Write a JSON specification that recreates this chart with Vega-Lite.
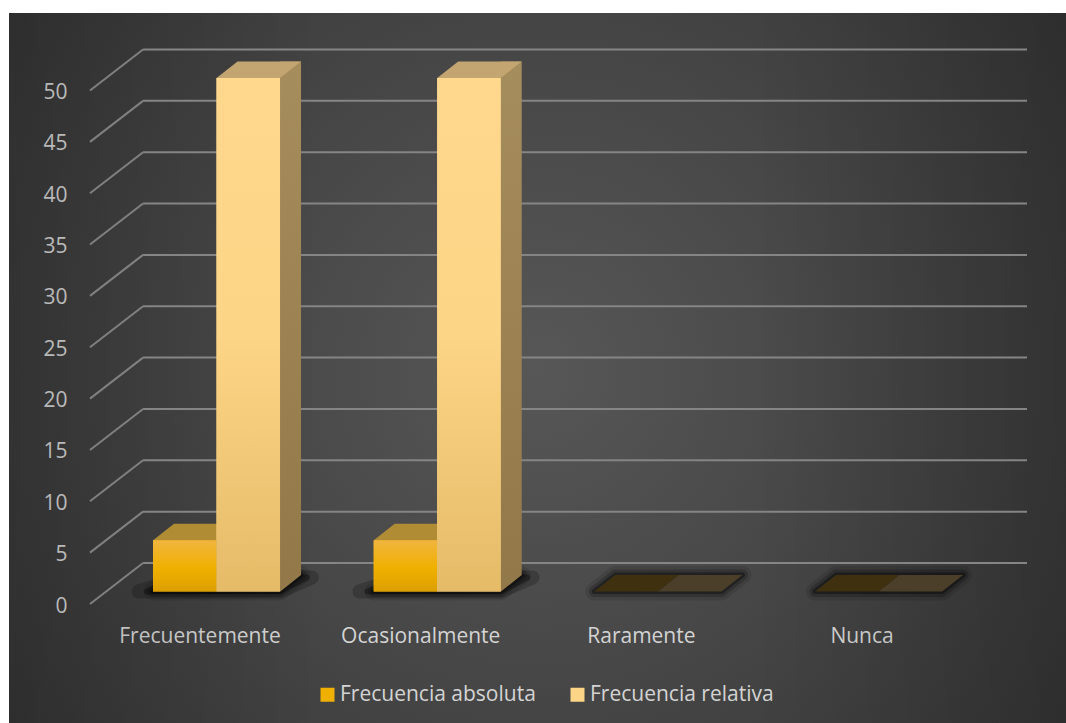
{
  "$schema": "https://vega.github.io/schema/vega-lite/v6.json",
  "width": 1057,
  "height": 710,
  "autosize": "none",
  "padding": {"left": 9, "top": 13, "right": 0, "bottom": 0},
  "background": "#ffffff",
  "view": {
    "stroke": null,
    "fill": {
      "gradient": "radial", "x1": 0.5, "y1": 0.5, "r1": 0, "x2": 0.5, "y2": 0.5, "r2": 0.72,
      "stops": [{"offset": 0, "color": "#575757"}, {"offset": 0.55, "color": "#414141"}, {"offset": 1, "color": "#2f2f2f"}]
    }
  },
  "config": {
    "font": "Open Sans",
    "axis": {"grid": false, "domain": false, "ticks": false, "title": null, "labelColor": "#d4d4d4", "labelFontSize": 21, "labelFont": "Open Sans"},
    "legend": {"labelColor": "#d4d4d4", "labelFontSize": 21, "labelFont": "Open Sans", "labelLimit": 300}
  },
  "datasets": {
    "respuestas": [
      {"categoria": "Frecuentemente", "serie": "Frecuencia absoluta", "valor": 5},
      {"categoria": "Frecuentemente", "serie": "Frecuencia relativa", "valor": 50},
      {"categoria": "Ocasionalmente", "serie": "Frecuencia absoluta", "valor": 5},
      {"categoria": "Ocasionalmente", "serie": "Frecuencia relativa", "valor": 50},
      {"categoria": "Raramente", "serie": "Frecuencia absoluta", "valor": 0},
      {"categoria": "Raramente", "serie": "Frecuencia relativa", "valor": 0},
      {"categoria": "Nunca", "serie": "Frecuencia absoluta", "valor": 0},
      {"categoria": "Nunca", "serie": "Frecuencia relativa", "valor": 0}
    ],
    "marcas": [
      {"marca": 0}, {"marca": 5}, {"marca": 10}, {"marca": 15}, {"marca": 20}, {"marca": 25},
      {"marca": 30}, {"marca": 35}, {"marca": 40}, {"marca": 45}, {"marca": 50}
    ]
  },
  "resolve": {"scale": {"x": "independent"}, "axis": {"x": "independent"}},
  "layer": [
    {
      "data": {"name": "marcas"},
      "layer": [
        {
          "description": "Darkening toward the left and right edges of the panel",
          "transform": [{"filter": "datum.marca === 0"}],
          "mark": {
            "type": "rect",
            "color": {"gradient": "linear", "x1": 0, "y1": 0, "x2": 1, "y2": 0, "stops": [{"offset": 0, "color": "rgba(0,0,0,0.15)"}, {"offset": 0.3, "color": "rgba(0,0,0,0)"}, {"offset": 0.7, "color": "rgba(0,0,0,0)"}, {"offset": 1, "color": "rgba(0,0,0,0.15)"}]}
          },
          "encoding": {
            "x": {"datum": -0.6065, "type": "quantitative", "axis": null, "scale": {"domain": [-0.24, 4], "range": [81, 1018], "nice": false, "zero": false}},
            "x2": {"datum": 4.1765},
            "y": {"datum": 56.33, "type": "quantitative", "scale": {"domain": [0, 50], "range": [578.5, 65], "nice": false}},
            "y2": {"datum": -12.8}
          }
        },
        {
          "description": "Back wall gridlines",
          "mark": {"type": "rule", "color": "#858585", "strokeWidth": 2, "yOffset": -28.5},
          "encoding": {
            "x": {"datum": 0, "type": "quantitative", "axis": null},
            "x2": {"datum": 4},
            "y": {
              "field": "marca", "type": "quantitative",
              "axis": {"orient": "left", "offset": -58, "labelPadding": 0, "labelOffset": 14.5, "values": [0, 5, 10, 15, 20, 25, 30, 35, 40, 45, 50]}
            }
          }
        },
        {
          "description": "Side wall gridlines running from the front edge to the back wall",
          "mark": {"type": "rule", "color": "#808080", "strokeWidth": 2, "yOffset": 12.5, "y2Offset": -28.5},
          "encoding": {
            "x": {"datum": -0.24, "type": "quantitative", "axis": null},
            "x2": {"datum": 0},
            "y": {"field": "marca", "type": "quantitative"},
            "y2": {"field": "marca"}
          }
        }
      ]
    },
    {
      "data": {"name": "respuestas"},
      "encoding": {
        "x": {
          "field": "categoria", "type": "nominal", "sort": null,
          "scale": {"type": "band", "range": [97.2, 979.9], "paddingInner": 0.4245, "paddingOuter": 0.2122},
          "axis": {"orient": "bottom", "offset": -105, "labelPadding": 7, "labelOffset": -16.5, "labelAngle": 0}
        },
        "xOffset": {"field": "serie", "scale": {"domain": ["Frecuencia absoluta", "Frecuencia relativa"]}},
        "y": {"field": "valor", "type": "quantitative"}
      },
      "layer": [
        {
          "description": "Wide shadow under the standing bars, faint edge",
          "transform": [{"filter": "datum.serie === 'Frecuencia absoluta' && datum.valor > 0"}],
          "mark": {"type": "point", "filled": false, "size": 4, "fill": "#000000", "fillOpacity": 1, "stroke": "#000000", "strokeOpacity": 1, "strokeWidth": 14, "strokeJoin": "round", "opacity": 0.2, "shape": "M-46 0 L95 0 L127 -14 L-4 -14 Z"},
          "encoding": {"y": {"datum": 0, "type": "quantitative"}}
        },
        {
          "description": "Wide shadow under the standing bars, dark centre",
          "transform": [{"filter": "datum.serie === 'Frecuencia absoluta' && datum.valor > 0"}],
          "mark": {"type": "point", "filled": false, "size": 4, "fill": "#000000", "fillOpacity": 1, "stroke": "#000000", "strokeOpacity": 1, "strokeWidth": 6, "strokeJoin": "round", "opacity": 0.3, "shape": "M-38 0 L95 0 L122 -14 L-4 -14 Z"},
          "encoding": {"y": {"datum": 0, "type": "quantitative"}}
        },
        {
          "description": "Soft floor shadow, outer halo",
          "transform": [{"filter": "datum.serie === 'Frecuencia absoluta'"}],
          "mark": {"type": "point", "filled": false, "size": 4, "fill": "#000000", "fillOpacity": 1, "stroke": "#000000", "strokeOpacity": 1, "strokeWidth": 18, "strokeJoin": "round", "opacity": 0.1, "shape": "M-31.75 0 L95.25 0 L116.25 -16.5 L-10.75 -16.5 Z"},
          "encoding": {"y": {"datum": 0, "type": "quantitative"}}
        },
        {
          "description": "Soft floor shadow, middle halo",
          "transform": [{"filter": "datum.serie === 'Frecuencia absoluta'"}],
          "mark": {"type": "point", "filled": false, "size": 4, "fill": "#000000", "fillOpacity": 1, "stroke": "#000000", "strokeOpacity": 1, "strokeWidth": 11, "strokeJoin": "round", "opacity": 0.2, "shape": "M-31.75 0 L95.25 0 L116.25 -16.5 L-10.75 -16.5 Z"},
          "encoding": {"y": {"datum": 0, "type": "quantitative"}}
        },
        {
          "description": "Soft floor shadow, core",
          "transform": [{"filter": "datum.serie === 'Frecuencia absoluta'"}],
          "mark": {"type": "point", "filled": false, "size": 4, "fill": "#000000", "fillOpacity": 1, "stroke": "#000000", "strokeOpacity": 1, "strokeWidth": 5, "strokeJoin": "round", "opacity": 0.35, "shape": "M-31.75 0 L95.25 0 L116.25 -16.5 L-10.75 -16.5 Z"},
          "encoding": {"y": {"datum": 0, "type": "quantitative"}}
        },
        {
          "description": "Right side face of the standing relative bars",
          "transform": [{"filter": "datum.valor > 0 && datum.serie === 'Frecuencia relativa'"}],
          "mark": {
            "type": "bar", "width": 21, "yOffset": -16.5, "y2Offset": -16.5,
            "color": {"gradient": "linear", "x1": 0, "y1": 0, "x2": 0, "y2": 1, "stops": [{"offset": 0, "color": "#a68d5e"}, {"offset": 1, "color": "#93794a"}]}
          },
          "encoding": {"xOffset": {"value": 137.5}, "y2": {"datum": 0}}
        },
        {
          "description": "Lower slanted end of the side face",
          "transform": [{"filter": "datum.valor > 0"}],
          "mark": {"type": "point", "filled": true, "size": 4, "color": "#93794a", "opacity": 1, "shape": "M31.75 0.3 L31.75 -16.8 L52.75 -16.8 L52.75 -16.5 Z"},
          "encoding": {"y": {"datum": 0, "type": "quantitative"}}
        },
        {
          "description": "Top cap of each bar, flat on the floor for zero values",
          "mark": {"type": "point", "filled": true, "size": 4, "opacity": 1, "shape": "M-31.75 0 L31.75 0 L52.75 -16.5 L-10.75 -16.5 Z"},
          "encoding": {
            "fill": {
              "condition": [
                {"test": "datum.valor === 0 && datum.serie === 'Frecuencia absoluta'", "value": "#3f3110"},
                {"test": "datum.valor === 0", "value": "#4b3f29"},
                {"test": "datum.serie === 'Frecuencia absoluta'", "value": "#b08c34"}
              ],
              "value": "#c2a571"
            }
          }
        },
        {
          "description": "Front face of each bar, solid base carrying the legend",
          "transform": [{"filter": "datum.valor > 0"}],
          "mark": {"type": "bar"},
          "encoding": {
            "y2": {"datum": 0},
            "color": {
              "field": "serie", "type": "nominal", "sort": null,
              "scale": {"domain": ["Frecuencia absoluta", "Frecuencia relativa"], "range": ["#f0b000", "#fdd586"]},
              "legend": {
                "title": null, "orient": "none", "legendX": 308, "legendY": 671, "padding": 0, "direction": "horizontal", "columns": 2,
                "symbolType": "square", "symbolSize": 196, "symbolStrokeWidth": 0, "columnPadding": 31, "labelOffset": 2,
                "encode": {
                  "symbols": {
                    "update": {
                      "fill": [
                        {"test": "datum.value === 'Frecuencia absoluta'", "value": {"gradient": "linear", "x1": 0, "y1": 0, "x2": 0, "y2": 1, "stops": [{"offset": 0, "color": "#f0b53f"}, {"offset": 1, "color": "#e8a800"}]}},
                        {"value": {"gradient": "linear", "x1": 0, "y1": 0, "x2": 0, "y2": 1, "stops": [{"offset": 0, "color": "#ffdc96"}, {"offset": 1, "color": "#f5c873"}]}}
                      ]
                    }
                  }
                }
              }
            }
          }
        },
        {
          "description": "Vertical shading of the absolute bars",
          "transform": [{"filter": "datum.valor > 0 && datum.serie === 'Frecuencia absoluta'"}],
          "mark": {
            "type": "bar",
            "color": {"gradient": "linear", "x1": 0, "y1": 0, "x2": 0, "y2": 1, "stops": [{"offset": 0, "color": "#f0b53f"}, {"offset": 0.55, "color": "#f0b000"}, {"offset": 1, "color": "#dd9f00"}]}
          },
          "encoding": {"y2": {"datum": 0}}
        },
        {
          "description": "Vertical shading of the relative bars",
          "transform": [{"filter": "datum.valor > 0 && datum.serie === 'Frecuencia relativa'"}],
          "mark": {
            "type": "bar",
            "color": {"gradient": "linear", "x1": 0, "y1": 0, "x2": 0, "y2": 1, "stops": [{"offset": 0, "color": "#ffd88e"}, {"offset": 0.5, "color": "#fdd586"}, {"offset": 1, "color": "#e5bb68"}]}
          },
          "encoding": {"y2": {"datum": 0}}
        }
      ]
    }
  ]
}
